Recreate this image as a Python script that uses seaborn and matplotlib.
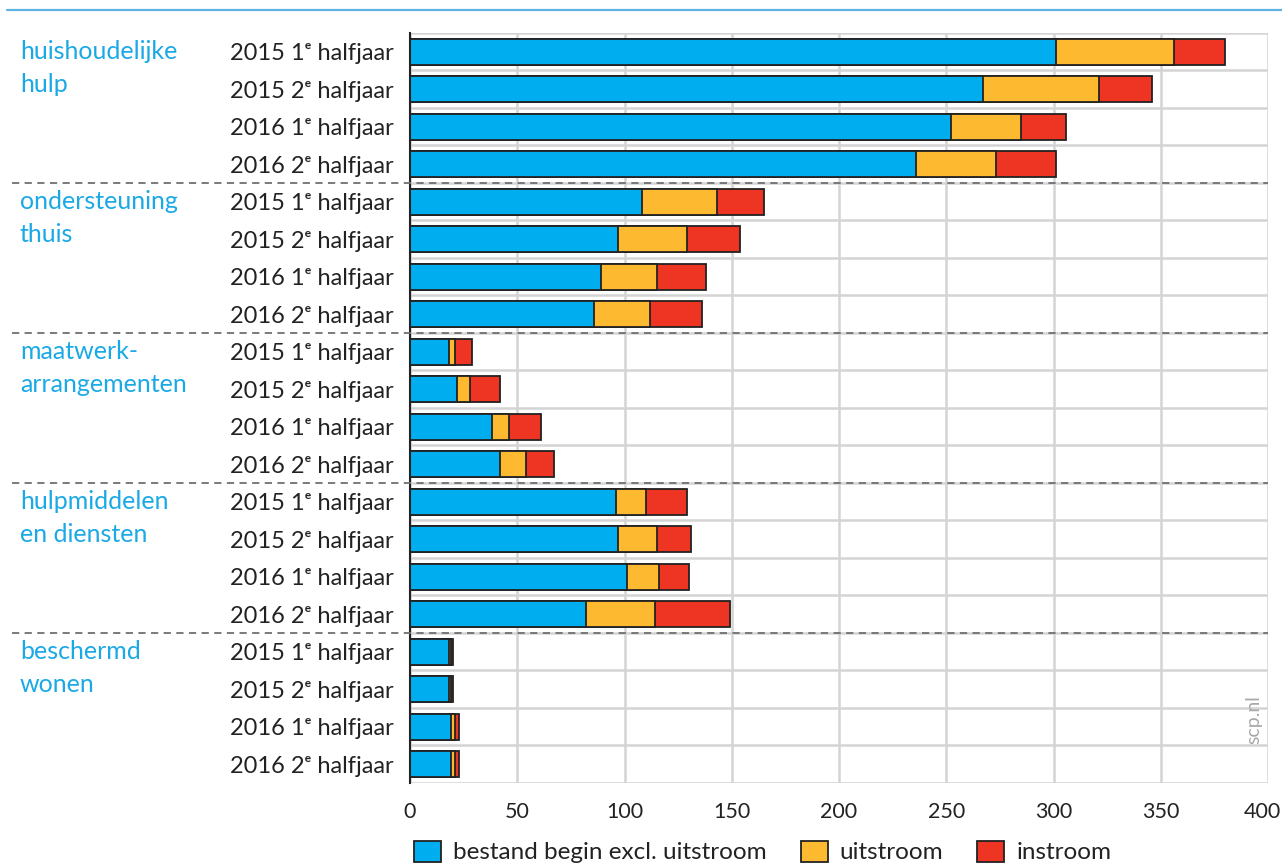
import numpy as np
import pandas as pd
import seaborn as sns
import matplotlib.pyplot as plt
from matplotlib.lines import Line2D
from matplotlib.patches import Patch
import matplotlib.transforms as mtransforms

# Data (x 1000)
groups = ['huishoudelijke\nhulp', 'ondersteuning\nthuis', 'maatwerk-\narrangementen',
          'hulpmiddelen\nen diensten', 'beschermd\nwonen']
periods = ['2015 1ᵉ halfjaar', '2015 2ᵉ halfjaar', '2016 1ᵉ halfjaar', '2016 2ᵉ halfjaar']

bestand = [301, 267, 252, 236,
           108, 97, 89, 86,
           18, 22, 38, 42,
           96, 97, 101, 82,
           18, 18, 19, 19]
uitstroom = [55, 54, 33, 37,
             35, 32, 26, 26,
             3, 6, 8, 12,
             14, 18, 15, 32,
             1, 1, 2, 2]
instroom = [24, 25, 21, 28,
            22, 25, 23, 24,
            8, 14, 15, 13,
            19, 16, 14, 35,
            1, 1, 2, 2]

series_names = ['bestand begin excl. uitstroom', 'uitstroom', 'instroom']
colors = ['#00AEEF', '#FDB92F', '#EE3524']

sns.set_style('white')
plt.rcParams['font.family'] = ['Lato', 'DejaVu Sans']

rows = [f'{g}|{p}' for g in groups for p in periods]
df = pd.DataFrame({'rij': rows, 'bestand': bestand, 'uitstroom': uitstroom, 'instroom': instroom})
df['tot_uit'] = df['bestand'] + df['uitstroom']
df['tot_in'] = df['tot_uit'] + df['instroom']

fig = plt.figure(figsize=(12.82, 8.68), dpi=100)
ax = fig.add_axes([410 / 1282, 1 - 783 / 868, 858 / 1282, 750 / 868])

edge = '#222222'
for col, c in zip(['tot_in', 'tot_uit', 'bestand'], colors[::-1]):
    sns.barplot(data=df, x=col, y='rij', order=rows, color=c, width=0.7,
                edgecolor=edge, linewidth=1.3, saturation=1, ax=ax, zorder=3)

ax.set_xlim(0, 400)
ax.set_ylim(len(rows) - 0.5, -0.5)
ax.set_xticks(np.arange(0, 401, 50))
ax.set_yticks(range(len(rows)))
ax.set_yticklabels([r.split('|')[1] for r in rows], fontsize=17, color='#222222')
ax.set_yticks(np.arange(-0.5, len(rows), 1), minor=True)
ax.tick_params(axis='x', labelsize=15.5, colors='#222222', length=0, pad=14)
ax.tick_params(axis='y', which='both', length=0, pad=12)
ax.set_xlabel('')
ax.set_ylabel('')
ax.grid(axis='x', color='#d4d4d4', linewidth=1.8, zorder=0)
ax.grid(axis='y', which='minor', color='#d4d4d4', linewidth=1.8, zorder=0)
ax.grid(axis='y', which='major', visible=False)
for s in ['top', 'right', 'bottom']:
    ax.spines[s].set_visible(False)
ax.spines['left'].set_color('#222222')
ax.spines['left'].set_linewidth(1.5)
ax.spines['left'].set_zorder(4)

# keep the last x tick label inside the figure
last = ax.get_xticklabels()[-1]
last.set_transform(last.get_transform() + mtransforms.ScaledTranslation(-6 / 100, 0, fig.dpi_scale_trans))

# group separators and group labels
trans = mtransforms.blended_transform_factory(ax.transAxes, ax.transData)
left_x = (12 - 410) / 858
for i, g in enumerate(groups):
    start = i * len(periods)
    if i > 0:
        ax.plot([left_x, 1], [start - 0.5, start - 0.5], transform=trans, clip_on=False,
                color='#707070', linestyle=(0, (4, 3)), linewidth=1.3, zorder=5)
    ax.text((20 - 410) / 858, start - 0.3, g, transform=trans, ha='left', va='top',
            fontsize=18, color='#1BA9E6', linespacing=1.5)

ax.text(0.993, 0.085, 'scp.nl', transform=ax.transAxes, rotation=90, ha='right', va='center',
        fontsize=14, color='#a8a8a8')

# top rule
fig.add_artist(Line2D([7 / 1282, 1], [1 - 10 / 868, 1 - 10 / 868], color='#5BB4E2', linewidth=1.6))

handles = [Patch(facecolor=c, edgecolor=edge, linewidth=1.3) for c in colors]
fig.legend(handles, series_names, loc='lower center', bbox_to_anchor=(0.595, -0.02), ncol=3,
           frameon=False, fontsize=17.5, handlelength=1.1, handleheight=0.95, handletextpad=0.5,
           columnspacing=1.4, labelcolor='#222222')

fig.savefig('out.png', dpi=100)
